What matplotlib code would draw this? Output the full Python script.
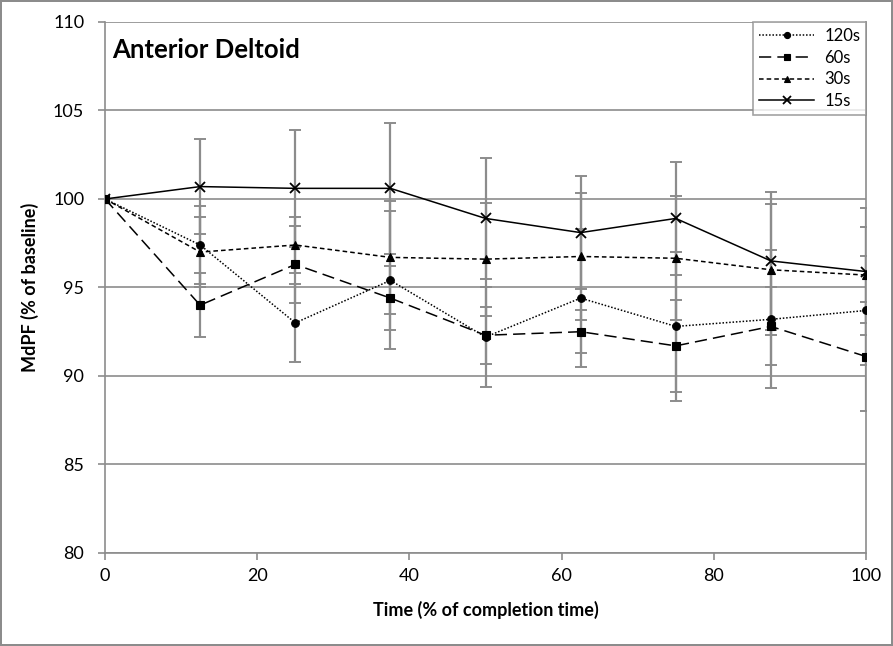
import numpy as np
import matplotlib
matplotlib.use("Agg")
import matplotlib.pyplot as plt

plt.rcParams['font.family'] = ['Lato', 'DejaVu Sans']

# time points, % of completion time
t = [0, 12.5, 25, 37.5, 50, 62.5, 75, 87.5, 100]

# median power frequency, % of baseline
mdpf_120 = [100, 97.4, 93.0, 95.4, 92.2, 94.4, 92.8, 93.2, 93.7]
mdpf_60 = [100, 94.0, 96.3, 94.4, 92.3, 92.5, 91.7, 92.8, 91.1]
mdpf_30 = [100, 97.0, 97.4, 96.7, 96.6, 96.75, 96.65, 96.0, 95.7]
mdpf_15 = [100, 100.7, 100.6, 100.6, 98.9, 98.1, 98.9, 96.5, 95.9]

# standard deviations
sd_120 = [0, 2.2, 2.2, 3.9, 2.8, 3.9, 4.2, 3.9, 3.1]
sd_60 = [0, 1.8, 2.2, 1.8, 1.6, 1.2, 2.6, 2.2, 3.1]
sd_30 = [0, 2.0, 1.6, 3.2, 3.2, 3.6, 3.5, 3.7, 2.7]
sd_15 = [0, 2.7, 3.3, 3.7, 3.4, 3.2, 3.2, 3.9, 3.6]

grey = '#8c8c8c'

fig = plt.figure(figsize=(8.93, 6.46), dpi=100)
fig.patch.set_edgecolor(grey)
fig.patch.set_linewidth(1.5)
ax = fig.add_axes([0.1176, 0.144, 0.8522, 0.822])

series = [
    ('120s', mdpf_120, sd_120, 'o', (0, (1, 1.2)), 5.5),
    ('60s', mdpf_60, sd_60, 's', (0, (8, 4)), 5.5),
    ('30s', mdpf_30, sd_30, '^', (0, (3, 2)), 5.5),
    ('15s', mdpf_15, sd_15, 'x', '-', 6.5),
]

# error bars first so the lines sit on top
for name, y, sd, mk, ls, ms in series:
    ax.errorbar(t, y, yerr=sd, fmt='none', ecolor=grey, elinewidth=1.6,
                capsize=4, capthick=1.4, zorder=2)

for name, y, sd, mk, ls, ms in series:
    ax.plot(t, y, color='black', linestyle=ls, linewidth=1.1, marker=mk,
            markersize=ms, markeredgewidth=1.3 if mk == 'x' else 0.8,
            label=name, zorder=3)

ax.set_xlim(0, 100)
ax.set_ylim(80, 110)
ax.set_xticks(np.arange(0, 101, 20))
ax.set_yticks(np.arange(80, 111, 5))
ax.yaxis.grid(True, color=grey, linewidth=1.2)
ax.set_axisbelow(True)
for sp in ax.spines.values():
    sp.set_color(grey)
    sp.set_linewidth(1.2)
ax.spines['top'].set_visible(False)
ax.tick_params(axis='both', colors=grey, labelcolor='black', labelsize=13,
               length=5, width=1.2)
ax.tick_params(axis='y', pad=10)
ax.tick_params(axis='x', pad=6)

ax.set_xlabel('Time (% of completion time)', fontsize=13, fontweight='bold', labelpad=12)
ax.set_ylabel('MdPF (% of baseline)', fontsize=13, fontweight='bold', labelpad=10)

ax.text(0.009, 0.97, 'Anterior Deltoid', transform=ax.transAxes,
        fontsize=18.5, fontweight='bold', va='top', ha='left')

leg = ax.legend(loc='upper right', fontsize=12, frameon=True, fancybox=False,
                borderaxespad=0, handlelength=3.3, handletextpad=0.6,
                borderpad=0.35, labelspacing=0.35, markerscale=0.8)
leg.get_frame().set_edgecolor(grey)
leg.get_frame().set_linewidth(1.2)

fig.savefig('out.png', dpi=100)
